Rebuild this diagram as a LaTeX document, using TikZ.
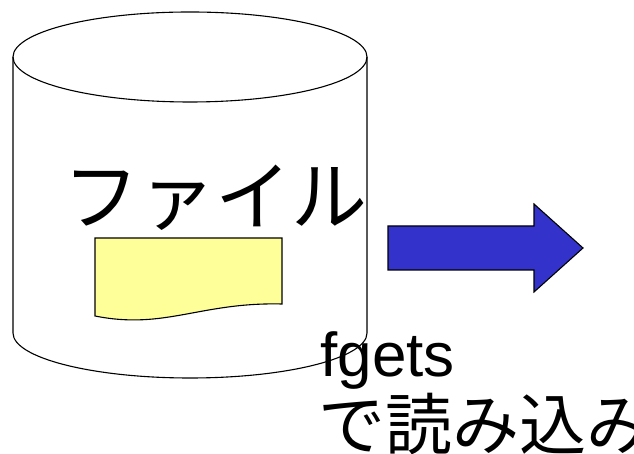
\documentclass[tikz,border=0pt]{standalone}
\usepackage{fontspec}
\setmainfont{Liberation Sans}
\newfontfamily\jpfont{Noto Sans CJK JP}
\definecolor{docyellow}{HTML}{FFFF99}
\definecolor{arrowblue}{HTML}{3333CC}
\begin{document}
\begin{tikzpicture}[x=1pt,y=1pt,line width=1.1pt,
		label/.style={anchor=base west,inner sep=0pt}]
	\useasboundingbox (0,0) rectangle (634,454);
	% cylinder
	\draw[fill=white] (13,397) -- (13,121) arc (180:360:177 and 45) -- (367,397);
	\draw (190,397) ellipse (177 and 45);
	\node[label] (file) at (63,229)
		{\fontsize{76}{84}\selectfont\jpfont ファイル};
	% data
	\draw[fill=docyellow] (95,216) -- (282,216) -- (282,150)
		.. controls (200,152) and (165,124) .. (95,138) -- cycle;
	% arrow
	\draw[fill=arrowblue] (388,228) -- (534,228) -- (534,250) -- (583,206)
		-- (534,162) -- (534,184) -- (388,184) -- cycle;
	\node[label] (fgets) at (320,77)
		{\fontsize{62}{70}\selectfont fgets};
	\node[label] (read) at (318,4)
		{\fontsize{67}{74}\selectfont\jpfont で読み込み};
\end{tikzpicture}
\end{document}
